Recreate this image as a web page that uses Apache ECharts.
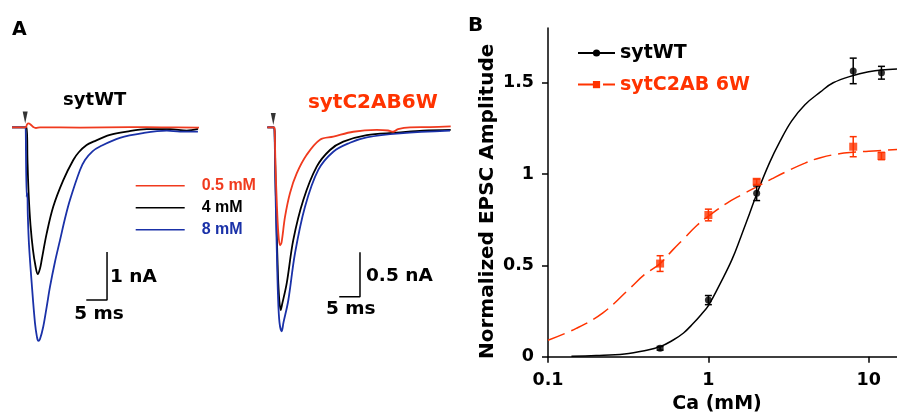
<!DOCTYPE html>
<html><head><meta charset="utf-8">
<script src="https://cdn.jsdelivr.net/npm/echarts@6/dist/echarts.min.js"></script>
<style>html,body{margin:0;padding:0;background:#fff}#c{width:897px;height:414px}</style>
</head><body><div id="c"></div>
<script>
// ---------- Panel A: EPSC traces, [time (ms), current (nA)] ----------
const wtTrace05 = [[0,0],[3.3,0],[3.61,0.06],[3.98,0.08],[4.46,0.06],[5.13,0.006],[5.78,-0.015],[6.75,0],[16.4,-0.005],[28.4,0.004],[36,0],[45.06,-0.005]];
const wtTrace4 = [[0,0],[3.54,0],[3.73,-0.68],[4.02,-1.41],[4.46,-2.04],[5.06,-2.56],[5.66,-2.89],[6.19,-3.06],[6.75,-2.94],[7.16,-2.76],[8.36,-2.21],[9.95,-1.65],[12.36,-1.10],[14.77,-0.68],[16.14,-0.515],[17.99,-0.37],[19.59,-0.30],[23.61,-0.16],[27.64,-0.09],[32.46,-0.04],[38.07,-0.04],[42.1,-0.07],[44.82,-0.035]];
const wtTrace8 = [[0,0],[3.30,0],[3.45,0],[3.52,-1.45],[3.69,-1.37],[3.81,-1.83],[4.10,-2.45],[4.75,-3.25],[5.54,-4.08],[6.02,-4.37],[6.34,-4.45],[6.75,-4.41],[7.54,-4.15],[8.36,-3.74],[9.16,-3.32],[10.36,-2.80],[11.57,-2.35],[12.77,-1.90],[13.98,-1.51],[16.39,-0.89],[17.59,-0.68],[19.40,-0.50],[21.2,-0.40],[26.0,-0.22],[31.6,-0.12],[37.3,-0.07],[40.5,-0.09],[44.8,-0.09]];
const mutTrace05 = [[0.8,0],[2.41,0],[2.55,-0.01],[2.77,-0.43],[3.06,-0.82],[3.45,-1.19],[3.86,-1.33],[4.22,-1.30],[5.06,-1.01],[6.27,-0.74],[7.88,-0.52],[10.29,-0.31],[13.49,-0.14],[16.70,-0.106],[21.52,-0.05],[27.16,-0.03],[29.88,-0.036],[31.08,-0.05],[32.29,-0.02],[35.18,0],[40.0,0.003],[44.99,0.011]];
const mutTrace4 = [[0.8,0],[2.41,0],[2.58,-0.09],[2.77,-0.59],[3.06,-1.16],[3.37,-1.67],[3.69,-1.95],[4.02,-2.06],[4.34,-2.0],[5.47,-1.76],[7.06,-1.27],[9.47,-0.82],[12.70,-0.444],[15.90,-0.256],[19.11,-0.162],[24.75,-0.087],[31.98,-0.061],[38.39,-0.038],[44.99,-0.03]];
const mutTrace8 = [[0.8,0],[2.41,0],[2.58,-0.14],[2.77,-0.71],[3.06,-1.33],[3.37,-1.89],[3.73,-2.20],[4.27,-2.30],[4.70,-2.20],[5.86,-1.95],[7.47,-1.42],[9.88,-0.895],[13.08,-0.48],[16.70,-0.275],[20.72,-0.174],[24.75,-0.113],[32.77,-0.068],[44.82,-0.038]];
const stimWT = [[3.18,0.204]];
const stimMut = [[2.24,0.094]];
const scaleBarWT = [[17.9,-3.6],[22.9,-3.6],[22.9,-2.6]];   // 5 ms, 1 nA
const scaleBarMut = [[18.13,-1.91],[23.13,-1.91],[23.13,-1.41]]; // 5 ms, 0.5 nA
const traceNames = ['0.5 mM','4 mM','8 mM'];

// ---------- Panel B: Ca dose-response ----------
const caConc = [0.5, 1, 2, 8, 12];
const wtAmp = [0.046, 0.31, 0.895, 1.565, 1.555];
const wtErr = [0.01, 0.025, 0.04, 0.07, 0.035];
const mutAmp = [0.51, 0.776, 0.958, 1.15, 1.099];
const mutErr = [0.043, 0.032, 0.015, 0.055, 0.02];
const wtFit = [[0.14,0.002],[0.2,0.006],[0.3,0.015],[0.4,0.033],[0.5,0.055],[0.6,0.09],[0.7,0.13],[0.8,0.18],[0.9,0.23],[1.0,0.28],[1.2,0.41],[1.4,0.53],[1.6,0.66],[1.8,0.78],[2.0,0.89],[2.4,1.06],[2.8,1.18],[3.3,1.29],[4,1.38],[5,1.45],[6,1.50],[8,1.54],[10,1.56],[12,1.57],[15,1.575]];
const mutFit = [[0.1,0.09],[0.15,0.155],[0.22,0.24],[0.32,0.37],[0.4,0.45],[0.5,0.51],[0.6,0.585],[0.7,0.645],[0.85,0.72],[1,0.77],[1.3,0.84],[1.6,0.885],[2,0.93],[2.5,0.975],[3,1.01],[4,1.06],[5,1.09],[7,1.115],[10,1.125],[15,1.135]];
const yTicks = [0, 0.5, 1, 1.5];

const RED_A = '#f03a1e', BLUE = '#1a31a8', RED_B = '#ff3300';
const DJ = '"DejaVu Sans", sans-serif';
const AR = '"Liberation Sans", Arial, sans-serif';

function trace(name, data, color, grid) {
  return {type:'line', name, data, xAxisIndex:grid, yAxisIndex:grid, showSymbol:false, symbol:'none',
    smooth:0.35, lineStyle:{color, width:1.8}, itemStyle:{color}, silent:true};
}
function bar(data, grid) {
  return {type:'line', name:'scale', data, xAxisIndex:grid, yAxisIndex:grid, showSymbol:false, symbol:'none',
    lineStyle:{color:'#000', width:1.5}, silent:true};
}
function stim(data, grid) {
  return {type:'scatter', name:'stim', data, xAxisIndex:grid, yAxisIndex:grid,
    symbol:'path://M0,0L10,0L5,28Z', symbolSize:[5,12], itemStyle:{color:'#000'}, silent:true};
}
function errBars(name, xs, ys, es, color) {
  return {type:'custom', name, xAxisIndex:2, yAxisIndex:2, z:4, silent:true,
    data: xs.map((x,i)=>[x, ys[i]-es[i], ys[i]+es[i]]),
    encode:{x:0, y:[1,2]},
    renderItem:(params, api)=>{
      const lo = api.coord([api.value(0), api.value(1)]);
      const hi = api.coord([api.value(0), api.value(2)]);
      const w = 3.5, st = {stroke:color, lineWidth:1.5};
      return {type:'group', children:[
        {type:'line', shape:{x1:lo[0],y1:lo[1],x2:hi[0],y2:hi[1]}, style:st},
        {type:'line', shape:{x1:lo[0]-w,y1:lo[1],x2:lo[0]+w,y2:lo[1]}, style:st},
        {type:'line', shape:{x1:hi[0]-w,y1:hi[1],x2:hi[0]+w,y2:hi[1]}, style:st}
      ]};
    }};
}
function txt(text, x, y, size, color, align, fam) {
  return {type:'text', x, y, silent:true, style:{text, fill:color, font:'bold '+size+'px '+(fam||DJ), align:align||'left', verticalAlign:'middle'}};
}

const chart = echarts.init(document.getElementById('c'), null, {renderer:'canvas'});
const axisTxt = {color:'#000', fontWeight:'bold', fontFamily:DJ};
chart.setOption({
  animation:false,
  backgroundColor:'#fff',
  grid:[
    {left:12, top:115.3, width:199.2, height:252, outerBoundsMode:'none', containLabel:false},
    {left:264, top:114, width:199.2, height:243.9, outerBoundsMode:'none', containLabel:false},
    {left:548, top:28, width:349, height:328.7, outerBoundsMode:'none', containLabel:false}
  ],
  xAxis:[
    {gridIndex:0, type:'value', min:0, max:48, show:false},
    {gridIndex:1, type:'value', min:0, max:48, show:false},
    {gridIndex:2, type:'log', logBase:10, min:0.1, max:15,
     axisLine:{show:true, lineStyle:{color:'#000', width:1.5}},
     axisTick:{show:true, length:6, lineStyle:{color:'#000', width:1.5}},
     minorTick:{show:false}, splitLine:{show:false},
     axisLabel:Object.assign({margin:15, fontSize:17.5, showMaxLabel:false,
       formatter:v=> v<1 ? Number(v).toFixed(1) : String(Math.round(v))}, axisTxt),
     name:'Ca (mM)', nameLocation:'middle', nameGap:36,
     nameTextStyle:Object.assign({fontSize:19, padding:[0,11,0,0]}, axisTxt)}
  ],
  yAxis:[
    {gridIndex:0, type:'value', min:-5, max:0.25, show:false},
    {gridIndex:1, type:'value', min:-2.6, max:0.15, show:false},
    {gridIndex:2, type:'value', min:0, max:1.8, interval:0.5,
     axisLine:{show:true, lineStyle:{color:'#000', width:1.5}},
     axisTick:{show:true, length:6, lineStyle:{color:'#000', width:1.5}, customValues:yTicks},
     splitLine:{show:false},
     axisLabel:Object.assign({margin:14, fontSize:17.5, customValues:yTicks}, axisTxt),
     name:'Normalized EPSC Amplitude', nameLocation:'middle', nameGap:50,
     nameTextStyle:Object.assign({fontSize:20, padding:[0,18,0,0]}, axisTxt)}
  ],
  legend:[
    {left:135.7, top:177.7, padding:0, orient:'vertical', icon:'rect', itemWidth:49, itemHeight:1.6, itemGap:6,
     selectedMode:false,
     textStyle:{fontSize:16, fontWeight:'bold', fontFamily:AR, padding:[0,0,0,12]},
     data:[{name:'0.5 mM', textStyle:{color:RED_A}}, {name:'4 mM', textStyle:{color:'#000'}}, {name:'8 mM', textStyle:{color:BLUE}}]},
    {left:577, top:43.5, padding:0, orient:'vertical', itemWidth:37, itemHeight:9, itemGap:12.6, selectedMode:false,
     textStyle:{fontSize:19, fontWeight:'bold', fontFamily:DJ},
     data:[{name:'sytWT', textStyle:{color:'#000'}}, {name:'sytC2AB 6W', textStyle:{color:RED_B}}]}
  ],
  series:[
    trace(traceNames[1], wtTrace4, '#000', 0),
    trace(traceNames[2], wtTrace8, BLUE, 0),
    trace(traceNames[0], wtTrace05, RED_A, 0),
    trace(traceNames[1], mutTrace4, '#000', 1),
    trace(traceNames[2], mutTrace8, BLUE, 1),
    trace(traceNames[0], mutTrace05, RED_A, 1),
    bar(scaleBarWT, 0), bar(scaleBarMut, 1),
    stim(stimWT, 0), stim(stimMut, 1),
    {type:'line', name:'sytWT', data:wtFit, xAxisIndex:2, yAxisIndex:2, symbol:'circle', symbolSize:7, showSymbol:false,
     smooth:0.4, lineStyle:{color:'#000', width:1.5}, itemStyle:{color:'#000', borderWidth:0}, silent:true},
    {type:'line', name:'sytC2AB 6W', data:mutFit, xAxisIndex:2, yAxisIndex:2, symbol:'rect', symbolSize:8, showSymbol:false,
     smooth:0.4, lineStyle:{color:RED_B, width:1.5, type:[18,7]}, itemStyle:{color:RED_B, borderWidth:0}, silent:true},
    errBars('sytWT err', caConc, wtAmp, wtErr, '#000'),
    errBars('sytC2AB 6W err', caConc, mutAmp, mutErr, RED_B),
    {type:'scatter', name:'sytWT', data:caConc.map((x,i)=>[x, wtAmp[i]]), xAxisIndex:2, yAxisIndex:2,
     symbol:'circle', symbolSize:7, itemStyle:{color:'#000'}, z:5, silent:true},
    {type:'scatter', name:'sytC2AB 6W', data:caConc.map((x,i)=>[x, mutAmp[i]]), xAxisIndex:2, yAxisIndex:2,
     symbol:'rect', symbolSize:8, itemStyle:{color:RED_B}, z:5, silent:true}
  ],
  graphic:[
    txt('A', 12, 30, 19, '#000'),
    txt('B', 468, 25.8, 20, '#000'),
    txt('sytWT', 94.7, 100.7, 18, '#000', 'center'),
    txt('sytC2AB6W', 372.8, 102.5, 20, RED_B, 'center'),
    txt('1 nA', 110, 276.7, 18.5, '#000'),
    txt('5 ms', 99, 314, 18.5, '#000', 'center'),
    txt('0.5 nA', 366, 275.8, 18.5, '#000'),
    txt('5 ms', 350.7, 309, 18.5, '#000', 'center')
  ]
});
</script></body></html>
